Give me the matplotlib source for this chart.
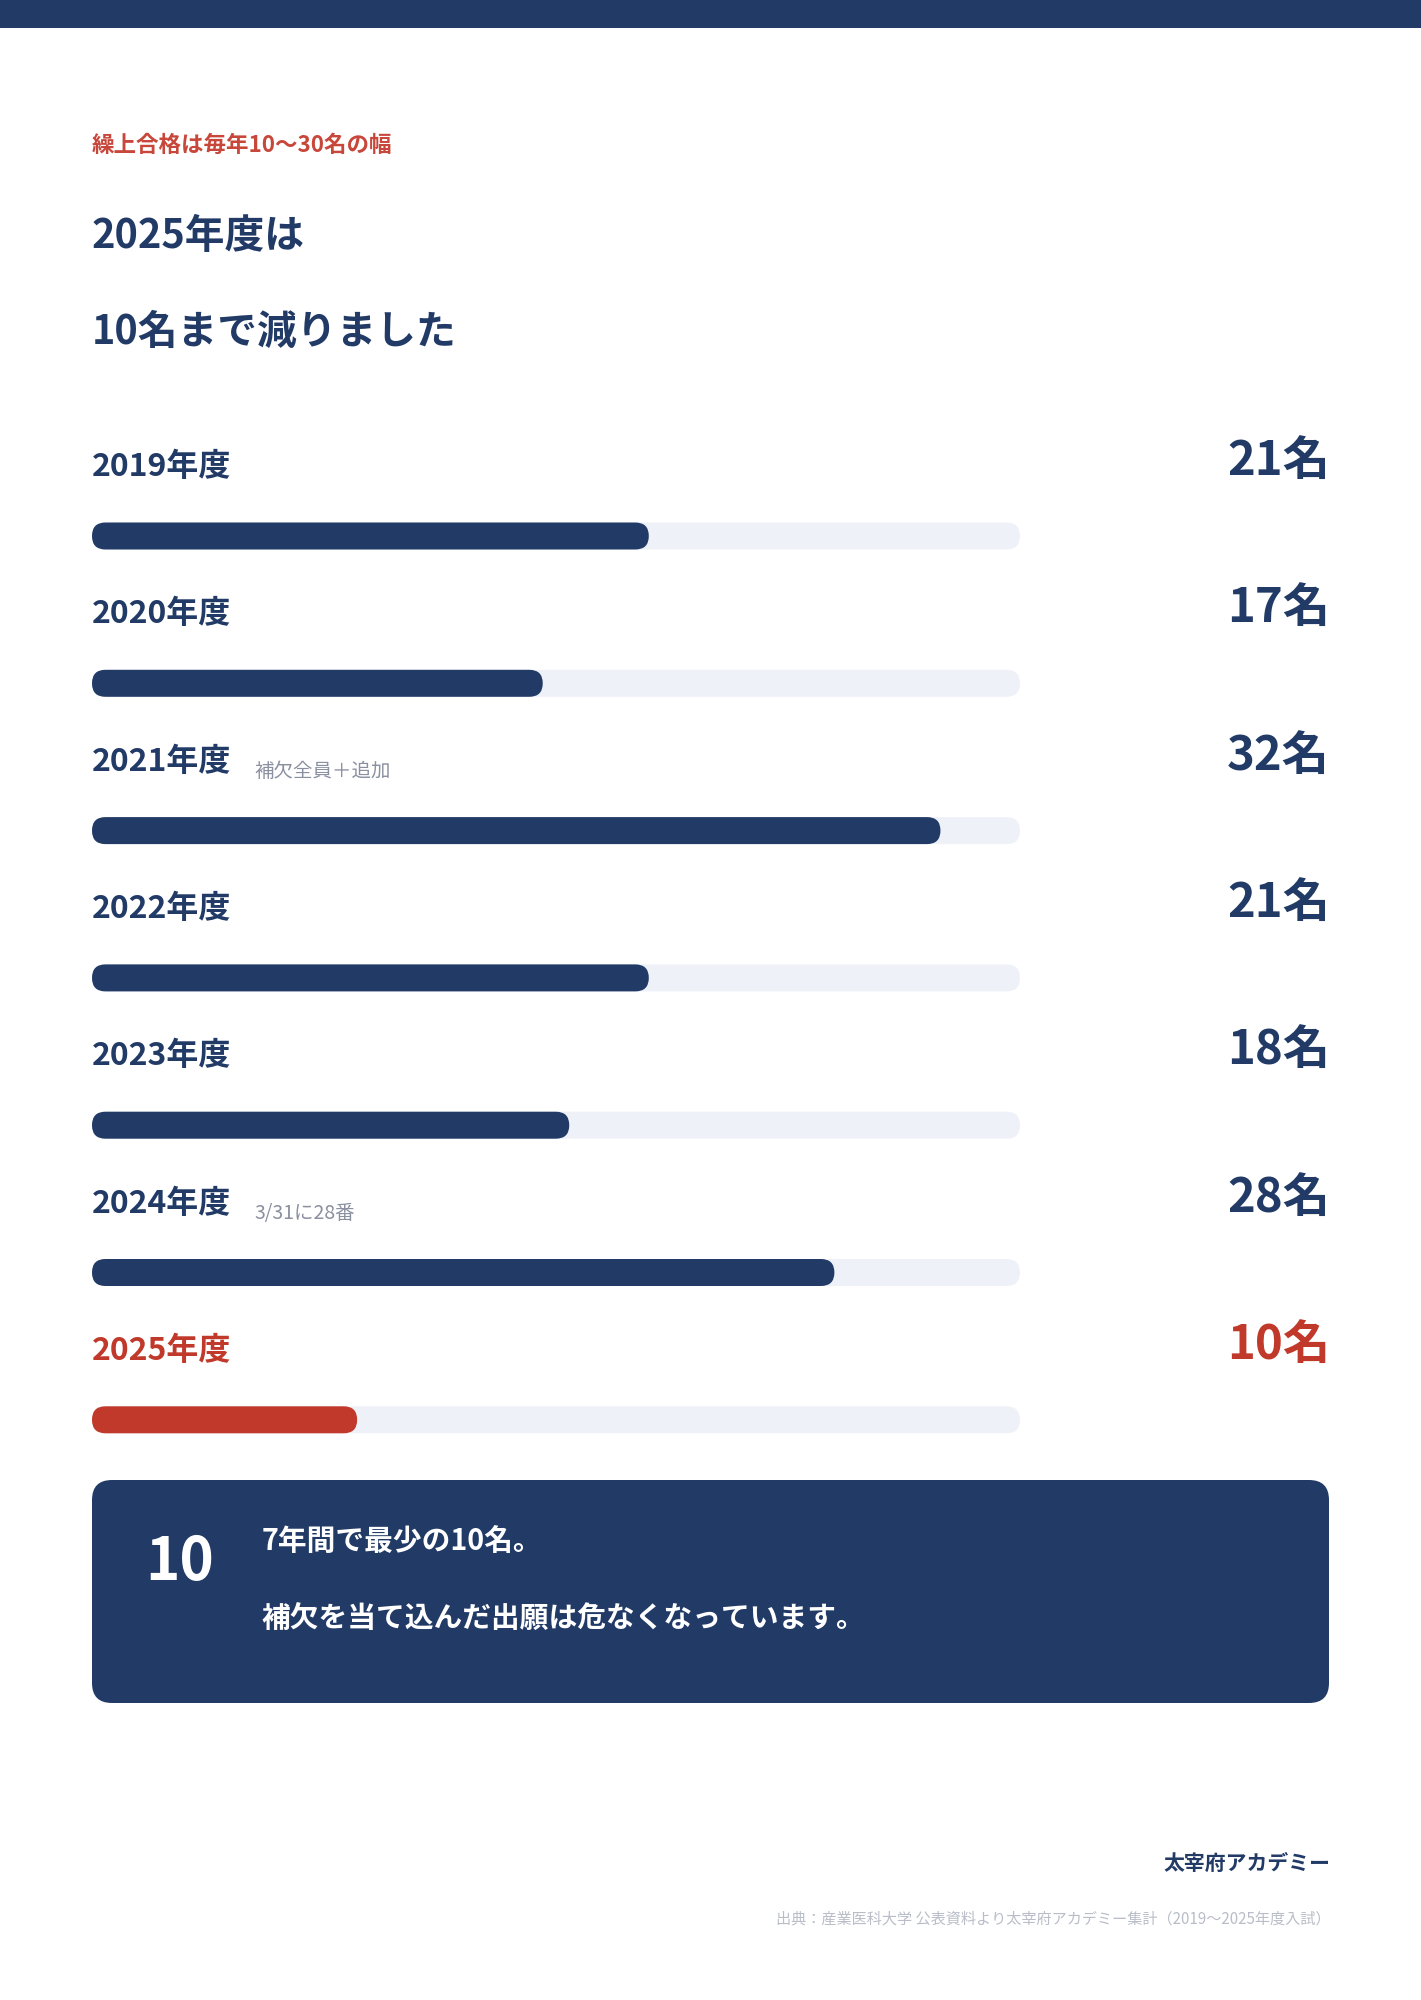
import matplotlib
matplotlib.use("Agg")
import matplotlib.pyplot as plt
from matplotlib.patches import FancyBboxPatch, Rectangle

plt.rcParams['font.family'] = ['Noto Sans CJK JP', 'DejaVu Sans']

# ---- data ----
years = ["2019年度", "2020年度", "2021年度", "2022年度", "2023年度", "2024年度", "2025年度"]
values = [21, 17, 32, 21, 18, 28, 10]
notes = ["", "", "補欠全員＋追加", "", "", "3/31に28番", ""]
value_suffix = "名"
scale_max = 35
highlight_index = 6

kicker = "繰上合格は毎年10〜30名の幅"
title_lines = ["2025年度は", "10名まで減りました"]
box_number = "10"
box_lines = ["7年間で最少の10名。", "補欠を当て込んだ出願は危なくなっています。"]
brand = "太宰府アカデミー"
source = "出典：産業医科大学 公表資料より太宰府アカデミー集計（2019〜2025年度入試）"

NAVY = "#213a66"
RED = "#c0392b"
TRACK = "#eef1f8"
NOTE_GRAY = "#8a90a0"
SRC_GRAY = "#b9bdc8"

W, H = 1421, 2000
fig = plt.figure(figsize=(W / 100, H / 100), dpi=100)
fig.patch.set_facecolor("white")

ax = fig.add_axes([0, 0, 1, 1])
ax.set_xlim(0, W)
ax.set_ylim(H, 0)
ax.axis("off")

# top band
ax.add_patch(Rectangle((0, 0), W, 28, color=NAVY, lw=0))

LX = 92
ax.text(LX, 152, kicker, color="#c8473b", fontsize=16.2, fontweight="bold", va="baseline")
ax.text(LX, 248, title_lines[0], color=NAVY, fontsize=28.6, fontweight="bold", va="baseline")
ax.text(LX, 344, title_lines[1], color=NAVY, fontsize=28.6, fontweight="bold", va="baseline")

# bars axes: x in data values, y in pixels
bx0, bx1 = 92, 1020
by0, by1 = 480, 1460
axb = fig.add_axes([bx0 / W, 1 - by1 / H, (bx1 - bx0) / W, (by1 - by0) / H])
axb.set_xlim(0, scale_max)
axb.set_ylim(by1, by0)
axb.axis("off")
px_per_unit = (bx1 - bx0) / scale_max
m_aspect = px_per_unit  # y units (px) per x unit
bar_h = 27
row0, step = 536, 147.3

for i, (yr, v, note) in enumerate(zip(years, values, notes)):
    yc = row0 + i * step
    col = RED if i == highlight_index else NAVY
    # track
    axb.add_patch(FancyBboxPatch((0, yc - bar_h / 2), scale_max, bar_h,
                                 boxstyle=f"round,pad=0,rounding_size={bar_h / 2 / px_per_unit}",
                                 mutation_aspect=m_aspect, fc=TRACK, ec="none", lw=0))
    axb.add_patch(FancyBboxPatch((0, yc - bar_h / 2), v, bar_h,
                                 boxstyle=f"round,pad=0,rounding_size={bar_h / 2 / px_per_unit}",
                                 mutation_aspect=m_aspect, fc=col, ec="none", lw=0))
    # labels
    ax.text(LX, yc - 60, yr, color=col, fontsize=23, fontweight="bold", va="baseline")
    if note:
        ax.text(254, yc - 54, note, color=NOTE_GRAY, fontsize=14, va="baseline")
    ax.text(1330, yc - 61, f"{v}{value_suffix}", color=col, fontsize=34,
            fontweight="bold", va="baseline", ha="right")

# summary box
ax.add_patch(FancyBboxPatch((92, 1480), 1329 - 92, 1703 - 1480,
                            boxstyle="round,pad=0,rounding_size=20",
                            fc=NAVY, ec="none", lw=0))
ax.text(180, 1563, box_number, color="white", fontsize=42, fontweight="bold",
        ha="center", va="center")
ax.text(262, 1551, box_lines[0], color="white", fontsize=20.7, fontweight="bold", va="baseline")
ax.text(262, 1628, box_lines[1], color="white", fontsize=20.7, fontweight="bold", va="baseline")

ax.text(1330, 1870, brand, color=NAVY, fontsize=15, fontweight="bold", ha="right", va="baseline")
ax.text(1330, 1923, source, color=SRC_GRAY, fontsize=10.9, ha="right", va="baseline")

fig.savefig("out.png", dpi=100, facecolor="white")
